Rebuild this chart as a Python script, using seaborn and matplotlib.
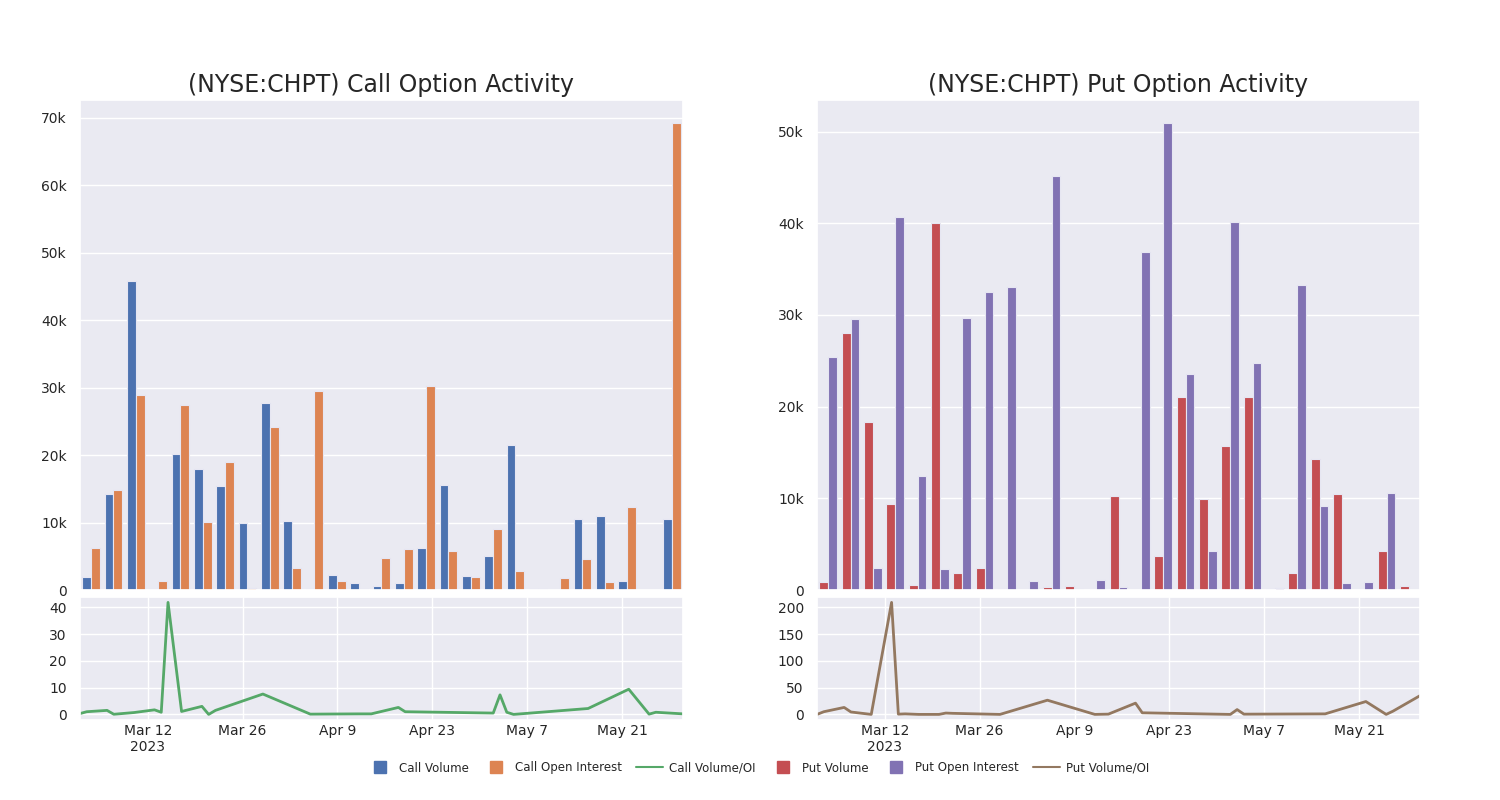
import matplotlib
matplotlib.use("Agg")
import matplotlib.pyplot as plt
import matplotlib.dates as mdates
from matplotlib.ticker import FuncFormatter, MultipleLocator, FixedLocator
from matplotlib.lines import Line2D
import seaborn as sns
import pandas as pd

# trading days shown in the chart (2023)
dates = ["2023-03-02", "2023-03-03", "2023-03-06", "2023-03-07", "2023-03-10",
         "2023-03-13", "2023-03-14", "2023-03-15", "2023-03-17", "2023-03-20",
         "2023-03-21", "2023-03-22", "2023-03-29", "2023-04-05", "2023-04-12",
         "2023-04-14", "2023-04-18", "2023-04-19", "2023-05-02", "2023-05-03",
         "2023-05-04", "2023-05-05", "2023-05-16", "2023-05-22", "2023-05-25",
         "2023-05-26", "2023-05-30"]

call_volume = [1900, 14300, 45800, 80, 20100, 17900, 15400, 10000, 27700, 10300,
               180, 2200, 1050, 550, 1000, 6200, 15600, 2100, 5000, 21500,
               150, 60, 10500, 11000, 1400, 60, 10600]
call_oi = [6200, 14900, 28900, 1400, 27400, 10100, 19000, 240, 24200, 3200,
           29500, 1400, 140, 4700, 6100, 30200, 5800, 2000, 9100, 2800,
           150, 1800, 4600, 1150, 12300, 60, 69200]
call_ratio = [0.3, 1.0, 1.5, 0.05, 0.7, 1.7, 0.8, 41.8, 1.1, 3.0,
              0.0, 1.5, 7.6, 0.1, 0.2, 0.2, 2.6, 1.0, 0.5, 7.3,
              0.8, 0.0, 2.2, 9.4, 0.1, 0.8, 0.2]

put_volume = [840, 28000, 18300, 9400, 500, 40000, 1800, 2400, 100, 20,
              300, 400, 10, 10200, 30, 3750, 21100, 9900, 15700, 21100,
              150, 1900, 14300, 10500, 20, 4200, 450]
put_oi = [25400, 29600, 2400, 40700, 12400, 2300, 29700, 32500, 33100, 950,
          45200, 100, 1060, 300, 36900, 50900, 23600, 4300, 40100, 24800,
          200, 33300, 9200, 770, 870, 10600, 0]
put_ratio = [0, 5, 13, 4.5, 0, 209, 0.5, 1, 0, 0,
             2.5, 2, 0, 26.5, 0, 0.5, 21, 3, 0, 9,
             0.5, 0.5, 1, 24, 0, 6, 35]

tick_dates = ["2023-03-12", "2023-03-26", "2023-04-09", "2023-04-23", "2023-05-07", "2023-05-21"]
tick_labels = ["Mar 12\n2023", "Mar 26", "Apr 9", "Apr 23", "May 7", "May 21"]

deep = sns.color_palette("deep")
sns.set_theme(style="darkgrid")
plt.rcParams["font.family"] = ["DejaVu Sans"]

fig = plt.figure(figsize=(15, 8), dpi=100)

dt = pd.to_datetime(dates)
ticks = pd.to_datetime(tick_dates)


def kfmt(v, p):
    return "0" if v == 0 else f"{v/1000:.0f}k"


def panel(left, vol, oi, ratio, names, colors, line_color, title, ystep):
    ax_top = fig.add_axes([left, 0.2625, 0.402, 0.6125])
    ax_bot = fig.add_axes([left, 0.1, 0.402, 0.154])
    n = len(vol)
    df = pd.DataFrame({
        "idx": list(range(n)) * 2,
        "value": vol + oi,
        "series": [names[0]] * n + [names[1]] * n,
    })
    sns.barplot(data=df, x="idx", y="value", hue="series", palette=colors,
                ax=ax_top, legend=False, edgecolor="#e6e6f2", linewidth=0.8,
                saturation=1)
    ax_top.xaxis.set_major_locator(MultipleLocator(5))
    ax_top.tick_params(labelbottom=False, labelsize=10)
    ax_top.set_xlabel("")
    ax_top.set_ylabel("")
    ax_top.yaxis.set_major_formatter(FuncFormatter(kfmt))
    ax_top.set_title(title, fontsize=17)

    sns.lineplot(x=dt, y=ratio, ax=ax_bot, color=line_color, linewidth=2)
    ax_bot.set_xlim(dt[0], dt[-1])
    ax_bot.xaxis.set_major_locator(FixedLocator(mdates.date2num(ticks)))
    ax_bot.set_xticklabels(tick_labels, multialignment="center")
    ax_bot.yaxis.set_major_locator(MultipleLocator(ystep))
    ax_bot.tick_params(labelsize=10)
    ax_bot.tick_params(axis="x", length=0, pad=3)
    ax_bot.set_xlabel("")
    ax_bot.set_ylabel("")


panel(0.0533, call_volume, call_oi, call_ratio,
      ["Call Volume", "Call Open Interest"], [deep[0], deep[1]], deep[2],
      "(NYSE:CHPT) Call Option Activity", 10)
panel(0.5447, put_volume, put_oi, put_ratio,
      ["Put Volume", "Put Open Interest"], [deep[3], deep[4]], deep[5],
      "(NYSE:CHPT) Put Option Activity", 50)

handles = [
    Line2D([], [], marker="s", linestyle="", color=deep[0], markersize=8),
    Line2D([], [], marker="s", linestyle="", color=deep[1], markersize=8),
    Line2D([], [], color=deep[2], linewidth=1.5),
    Line2D([], [], marker="s", linestyle="", color=deep[3], markersize=8),
    Line2D([], [], marker="s", linestyle="", color=deep[4], markersize=8),
    Line2D([], [], color=deep[5], linewidth=1.5),
]
labels = ["Call Volume", "Call Open Interest", "Call Volume/OI",
          "Put Volume", "Put Open Interest", "Put Volume/OI"]
fig.legend(handles, labels, loc="center", bbox_to_anchor=(0.505, 0.04),
           ncol=6, frameon=False, fontsize=8.5, handlelength=2.3,
           handletextpad=0.45, columnspacing=1.2)

fig.savefig("out.png", dpi=100)
